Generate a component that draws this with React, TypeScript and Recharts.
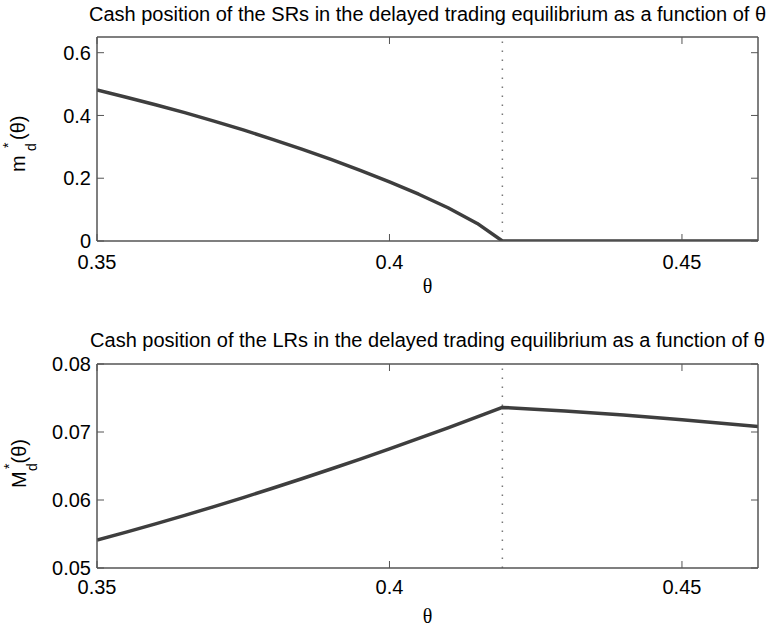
import { Line, LineChart, ReferenceLine, XAxis, YAxis } from 'recharts'

// theta grid
const THETA = [0.35, 0.355, 0.36, 0.365, 0.37, 0.375, 0.38, 0.385, 0.39, 0.395, 0.4, 0.405, 0.41, 0.415, 0.4193, 0.43, 0.44, 0.45, 0.463]
// m*_d(theta): cash position of the SRs
const SR_CASH = [0.481, 0.458, 0.434, 0.409, 0.382, 0.354, 0.324, 0.293, 0.26, 0.225, 0.188, 0.149, 0.106, 0.056, 0, 0, 0, 0, 0]
// M*_d(theta): cash position of the LRs
const LR_CASH = [0.0541, 0.05528, 0.05648, 0.05773, 0.05903, 0.06036, 0.06173, 0.06313, 0.06456, 0.06602, 0.06752, 0.06905, 0.07061, 0.07221, 0.07362, 0.0731, 0.0725, 0.0718, 0.0708]

const X_TICKS = [0.35, 0.4, 0.45]
const X_DOMAIN: [number, number] = [0.35, 0.463]
const SR_TICKS = [0, 0.2, 0.4, 0.6]
const SR_DOMAIN: [number, number] = [0, 0.65]
const LR_TICKS = [0.05, 0.06, 0.07, 0.08]
const LR_DOMAIN: [number, number] = [0.05, 0.08]
const THRESHOLD = 0.4193

const TOP_TITLE = 'Cash position of the SRs in the delayed trading equilibrium as a function of θ'
const BOTTOM_TITLE = 'Cash position of the LRs in the delayed trading equilibrium as a function of θ'

const WIDTH = 773
const PANEL_HEIGHT = 314
const FRAME = '#555'
const CURVE = '#3e3e3e'
const SANS = '"Liberation Sans", Arial, Helvetica, sans-serif'
const SERIF = '"Liberation Serif", "Times New Roman", serif'

const srData = THETA.map((theta, i) => ({ theta, value: SR_CASH[i] }))
const lrData = THETA.map((theta, i) => ({ theta, value: LR_CASH[i] }))

interface PanelProps {
  data: { theta: number; value: number }[]
  yDomain: [number, number]
  yTicks: number[]
  topHeight: number
  bottomHeight: number
  xTickMargin: number
}

const tickStyle = { fontSize: 20, fill: '#000', fontFamily: SANS }
const noLabel = () => ''

function Panel({ data, yDomain, yTicks, topHeight, bottomHeight, xTickMargin }: PanelProps) {
  return (
    <LineChart
      width={WIDTH}
      height={PANEL_HEIGHT}
      data={data}
      margin={{ top: 0, right: 0, bottom: 0, left: 0 }}
      style={{ fontFamily: SANS }}
    >
      <XAxis
        xAxisId="bottom"
        dataKey="theta"
        type="number"
        domain={X_DOMAIN}
        ticks={X_TICKS}
        allowDataOverflow
        height={bottomHeight}
        tickSize={-7}
        tickMargin={xTickMargin}
        tick={tickStyle}
        tickFormatter={(v: number) => String(v)}
        axisLine={{ stroke: FRAME, strokeWidth: 1.5 }}
        tickLine={{ stroke: FRAME }}
      />
      <XAxis
        xAxisId="top"
        orientation="top"
        dataKey="theta"
        type="number"
        domain={X_DOMAIN}
        ticks={X_TICKS}
        allowDataOverflow
        height={topHeight}
        tickSize={-7}
        tickFormatter={noLabel}
        axisLine={{ stroke: FRAME, strokeWidth: 1.5 }}
        tickLine={{ stroke: FRAME }}
      />
      <YAxis
        yAxisId="left"
        type="number"
        domain={yDomain}
        ticks={yTicks}
        allowDataOverflow
        width={97}
        tickSize={-7}
        tickMargin={13}
        tick={tickStyle}
        tickFormatter={(v: number) => String(v)}
        axisLine={{ stroke: FRAME, strokeWidth: 1.5 }}
        tickLine={{ stroke: FRAME }}
      />
      <YAxis
        yAxisId="right"
        orientation="right"
        type="number"
        domain={yDomain}
        ticks={yTicks}
        allowDataOverflow
        width={15}
        tickSize={-7}
        tickFormatter={noLabel}
        axisLine={{ stroke: FRAME, strokeWidth: 1.5 }}
        tickLine={{ stroke: FRAME }}
      />
      <ReferenceLine
        x={THRESHOLD}
        xAxisId="bottom"
        yAxisId="left"
        stroke="#777"
        strokeWidth={1.5}
        strokeDasharray="1.5 7.5"
      />
      <Line
        xAxisId="bottom"
        yAxisId="left"
        type="linear"
        dataKey="value"
        stroke={CURVE}
        strokeWidth={3.5}
        strokeLinejoin="round"
        dot={false}
        isAnimationActive={false}
      />
    </LineChart>
  )
}

export default function App() {
  return (
    <div
      style={{
        position: 'absolute',
        left: 0,
        top: 0,
        width: WIDTH,
        height: 628,
        background: '#fff',
        fontFamily: SANS
      }}
    >
      <div style={{ position: 'absolute', left: 0, top: 0 }}>
        <Panel data={srData} yDomain={SR_DOMAIN} yTicks={SR_TICKS} topHeight={37} bottomHeight={73} xTickMargin={21} />
      </div>
      <div style={{ position: 'absolute', left: 0, top: PANEL_HEIGHT }}>
        <Panel data={lrData} yDomain={LR_DOMAIN} yTicks={LR_TICKS} topHeight={50} bottomHeight={60} xTickMargin={19} />
      </div>
      <svg
        width={WIDTH}
        height={628}
        style={{ position: 'absolute', left: 0, top: 0, pointerEvents: 'none' }}
      >
        <text x={427.5} y={21} textAnchor="middle" fontSize={20} fill="#000">
          {TOP_TITLE}
        </text>
        <text x={427.5} y={347} textAnchor="middle" fontSize={20} fill="#000">
          {BOTTOM_TITLE}
        </text>

        <text x={427.5} y={293} textAnchor="middle" fontSize={20} fontFamily={SERIF}>
          θ
        </text>
        <text x={427.5} y={623} textAnchor="middle" fontSize={20} fontFamily={SERIF}>
          θ
        </text>

        <g transform="translate(25,144) rotate(-90)" fill="#000">
          <text x={-28} y={0} fontSize={20}>m</text>
          <text x={-7} y={10.5} fontSize={14}>d</text>
          <text x={-4} y={-12} fontSize={14}>*</text>
          <text x={4} y={0} fontSize={20}>(θ)</text>
        </g>
        <g transform="translate(26,465) rotate(-90)" fill="#000">
          <text x={-23} y={0} fontSize={20}>M</text>
          <text x={-6} y={10.5} fontSize={14}>d</text>
          <text x={-4} y={-12} fontSize={14}>*</text>
          <text x={1.5} y={0} fontSize={20}>(θ)</text>
        </g>
      </svg>
    </div>
  )
}
